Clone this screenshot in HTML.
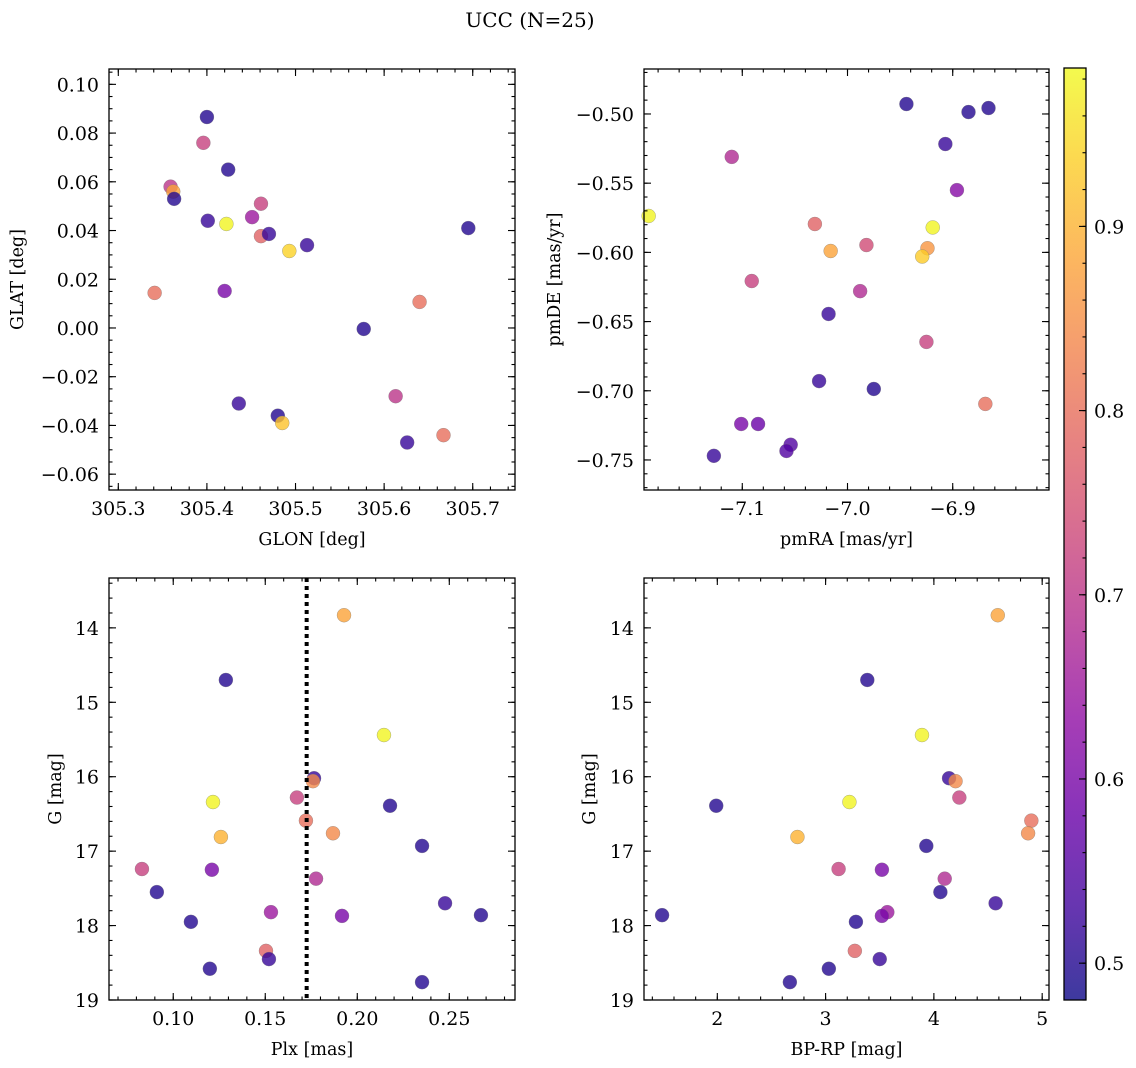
<!DOCTYPE html>
<html><head><meta charset="utf-8">
<style>
html,body{margin:0;padding:0;background:#fff;}
svg{display:block;font-family:"DejaVu Serif","Liberation Serif",serif;}
</style></head>
<body>
<svg id="fig" width="1136" height="1068" viewBox="0 0 1136 1068" xmlns="http://www.w3.org/2000/svg">
<text x="530" y="27" font-size="20" text-anchor="middle">UCC (N=25)</text>
</svg>
<script>
// ---- data ----
const glon = [305.400,305.396,305.424,305.359,305.362,305.363,305.401,305.422,305.451,305.461,305.461,305.470,305.493,305.513,305.341,305.420,305.695,305.577,305.640,305.436,305.480,305.485,305.613,305.626,305.667];
const glat = [0.0866,0.076,0.065,0.058,0.056,0.053,0.044,0.0427,0.0455,0.051,0.0377,0.0386,0.0316,0.034,0.0144,0.0152,0.041,-0.0004,0.0107,-0.031,-0.036,-0.039,-0.028,-0.047,-0.044];
const glonC = [0.5,0.72,0.5,0.7,0.88,0.5,0.52,0.98,0.65,0.72,0.78,0.52,0.94,0.52,0.8,0.6,0.5,0.5,0.8,0.52,0.5,0.92,0.7,0.52,0.8];

const pmra = [-6.944,-6.885,-6.866,-6.907,-7.110,-6.896,-7.189,-6.919,-7.031,-7.016,-6.924,-6.929,-6.982,-7.091,-6.988,-7.018,-6.925,-7.027,-6.975,-6.869,-7.101,-7.085,-7.054,-7.058,-7.127];
const pmde = [-0.4928,-0.4986,-0.4957,-0.5217,-0.531,-0.555,-0.5737,-0.582,-0.5795,-0.599,-0.597,-0.603,-0.5947,-0.6207,-0.628,-0.6445,-0.6647,-0.693,-0.6987,-0.7095,-0.724,-0.724,-0.739,-0.7435,-0.747];
const pmC = [0.5,0.5,0.5,0.52,0.68,0.62,0.98,0.98,0.78,0.88,0.86,0.93,0.74,0.72,0.68,0.52,0.72,0.52,0.5,0.8,0.6,0.58,0.55,0.55,0.52];

const plx = [0.1928,0.1286,0.2145,0.1765,0.1759,0.1216,0.1672,0.2178,0.1721,0.1868,0.1259,0.2352,0.0830,0.1210,0.1776,0.0911,0.2477,0.1531,0.1917,0.2672,0.1096,0.1504,0.1520,0.1199,0.2352];
const gmag = [13.83,14.70,15.44,16.02,16.06,16.34,16.28,16.39,16.59,16.76,16.81,16.93,17.24,17.25,17.37,17.55,17.70,17.82,17.87,17.86,17.95,18.34,18.45,18.58,18.76];
const bprp = [4.59,3.385,3.89,4.14,4.20,3.22,4.235,1.99,4.90,4.87,2.74,3.93,3.12,3.52,4.10,4.06,4.57,3.57,3.52,1.49,3.28,3.27,3.50,3.03,2.67];
const gC = [0.88,0.5,0.98,0.52,0.84,0.98,0.72,0.5,0.8,0.84,0.9,0.5,0.72,0.6,0.68,0.5,0.52,0.65,0.6,0.5,0.5,0.78,0.52,0.5,0.5];
const plxMedian = 0.1725;

const glonTicks = [305.3,305.4,305.5,305.6,305.7];
const glatTicks = [-0.06,-0.04,-0.02,0.00,0.02,0.04,0.06,0.08,0.10];
const pmraTicks = [-7.1,-7.0,-6.9];
const pmdeTicks = [-0.75,-0.70,-0.65,-0.60,-0.55,-0.50];
const plxTicks = [0.10,0.15,0.20,0.25];
const gTicks = [14,15,16,17,18,19];
const bprpTicks = [2,3,4,5];
const cbTicks = [0.5,0.6,0.7,0.8,0.9];
const cMin = 0.48, cMax = 0.986;

// ---- helpers ----
const NS = "http://www.w3.org/2000/svg";
const svg = document.getElementById('fig');
function mk(tag, attrs, parent){ const e=document.createElementNS(NS,tag); for(const k in attrs) e.setAttribute(k,attrs[k]); (parent||svg).appendChild(e); return e; }
const stops=[[0,[13,8,135]],[0.1,[65,4,157]],[0.2,[106,0,168]],[0.3,[143,13,164]],[0.4,[177,42,144]],[0.5,[204,71,120]],[0.6,[225,100,98]],[0.7,[242,132,75]],[0.8,[252,166,54]],[0.9,[252,206,37]],[1,[240,249,33]]];
function plasma(t){ t=Math.max(0,Math.min(1,t)); for(let i=1;i<stops.length;i++){ if(t<=stops[i][0]){ const a=stops[i-1],b=stops[i]; const f=(t-a[0])/(b[0]-a[0]); const c=a[1].map((v,j)=>Math.round(v+(b[1][j]-v)*f)); return `rgb(${c[0]},${c[1]},${c[2]})`; } } return 'rgb(240,249,33)'; }
function cnorm(c){ return (c-cMin)/(cMax-cMin); }

function panel(cfg){
  const {name,L,T,R,B,xmin,xmax,ymin,ymax,yinv,xt,yt,xminor,yminor,xdec,ydec,xs,ys,cs,xlabel,ylabel,ylabelX}=cfg;
  const g=mk('g',{});
  
  
  const sx=v=>L+(v-xmin)/(xmax-xmin)*(R-L);
  const sy=v=>yinv? T+(v-ymin)/(ymax-ymin)*(B-T) : B-(v-ymin)/(ymax-ymin)*(B-T);
  const pg=mk('g',{},g);
  
  
  xs.forEach((x,i)=>{
    const c=mk('circle',{cx:sx(x),cy:sy(ys[i]),r:7,fill:plasma(cnorm(cs[i])),'fill-opacity':0.8,stroke:'#777','stroke-width':0.5,'stroke-opacity':0.6},pg);
    
    
  });
  if(cfg.vline!==undefined){
    const l=mk('line',{x1:sx(cfg.vline),x2:sx(cfg.vline),y1:T,y2:B,stroke:'#000','stroke-width':4,'stroke-dasharray':'4,4'},g);
    
    
  }
  const f=mk('rect',{x:L,y:T,width:R-L,height:B-T,fill:'none',stroke:'#000','stroke-width':1.3},g);
  
  
  const tk=mk('g',{stroke:'#000','stroke-width':1.1},g);
  function xTick(v,len){ const x=sx(v); if(x<L-0.5||x>R+0.5) return; mk('line',{x1:x,x2:x,y1:B,y2:B-len},tk); mk('line',{x1:x,x2:x,y1:T,y2:T+len},tk); }
  function yTick(v,len){ const y=sy(v); if(y<T-0.5||y>B+0.5) return; mk('line',{x1:L,x2:L+len,y1:y,y2:y},tk); mk('line',{x1:R,x2:R-len,y1:y,y2:y},tk); }
  const x0=Math.ceil(Math.min(xmin,xmax)/xminor-1e-6), x1=Math.floor(Math.max(xmin,xmax)/xminor+1e-6);
  for(let k=x0;k<=x1;k++) xTick(k*xminor,3.5);
  const y0=Math.ceil(Math.min(ymin,ymax)/yminor-1e-6), y1=Math.floor(Math.max(ymin,ymax)/yminor+1e-6);
  for(let k=y0;k<=y1;k++) yTick(k*yminor,3.5);
  xt.forEach(v=>{ xTick(v,7);
    const t=mk('text',{x:sx(v),y:B+25,'font-size':19,'text-anchor':'middle'},g); t.textContent=v.toFixed(xdec).replace('-','\u2212');
      });
  yt.forEach(v=>{ yTick(v,7);
    const t=mk('text',{x:L-10,y:sy(v)+7,'font-size':19,'text-anchor':'end'},g); t.textContent=v.toFixed(ydec).replace('-','\u2212');
      });
  const xl=mk('text',{x:(L+R)/2,y:B+55,'font-size':17.5,'text-anchor':'middle'},g); xl.textContent=xlabel;
   
  const yx=ylabelX, yy=(T+B)/2;
  const yl=mk('text',{x:yx,y:yy,'font-size':17.5,'text-anchor':'middle',transform:`rotate(-90 ${yx} ${yy})`},g); yl.textContent=ylabel;
   
}

panel({name:'glon-glat-panel',L:109,T:69,R:515,B:490,xmin:305.2895,xmax:305.7477,ymin:-0.0665,ymax:0.1063,yinv:false,
  xt:glonTicks,yt:glatTicks,xminor:0.02,yminor:0.005,xdec:1,ydec:2,xs:glon,ys:glat,cs:glonC,xlabel:'GLON [deg]',ylabel:'GLAT [deg]',ylabelX:23});
panel({name:'pm-panel',L:644,T:69,R:1049,B:490,xmin:-7.1934,xmax:-6.8085,ymin:-0.7717,ymax:-0.4675,yinv:false,
  xt:pmraTicks,yt:pmdeTicks,xminor:0.02,yminor:0.01,xdec:1,ydec:2,xs:pmra,ys:pmde,cs:pmC,xlabel:'pmRA [mas/yr]',ylabel:'pmDE [mas/yr]',ylabelX:560});
panel({name:'plx-g-panel',L:109,T:578,R:515,B:1000,xmin:0.0651,xmax:0.2857,ymin:13.33,ymax:19.0,yinv:true,
  xt:plxTicks,yt:gTicks,xminor:0.01,yminor:0.2,xdec:2,ydec:0,xs:plx,ys:gmag,cs:gC,xlabel:'Plx [mas]',ylabel:'G [mag]',ylabelX:61,vline:plxMedian});
panel({name:'cmd-panel',L:644,T:578,R:1049,B:1000,xmin:1.323,xmax:5.063,ymin:13.33,ymax:19.0,yinv:true,
  xt:bprpTicks,yt:gTicks,xminor:0.2,yminor:0.2,xdec:0,ydec:0,xs:bprp,ys:gmag,cs:gC,xlabel:'BP-RP [mag]',ylabel:'G [mag]',ylabelX:595});

(function(){
  const L=1064,R=1086,T=68,B=1000;
  const g=mk('g',{});
  
  
  const defs=mk('defs',{},g);
  const lg=mk('linearGradient',{id:'cbg',x1:0,y1:1,x2:0,y2:0},defs);
  for(let i=0;i<=20;i++){ mk('stop',{offset:i/20,'stop-color':plasma(i/20),'stop-opacity':0.8},lg); }
  mk('rect',{x:L,y:T,width:R-L,height:B-T,fill:'url(#cbg)',stroke:'#000','stroke-width':1.3},g);
  const sy=v=>B-(v-cMin)/(cMax-cMin)*(B-T);
  const tk=mk('g',{stroke:'#000','stroke-width':1.1},g);
  for(let k=Math.ceil(cMin/0.02);k<=Math.floor(cMax/0.02);k++){ const y=sy(k*0.02); mk('line',{x1:R,x2:R-3.5,y1:y,y2:y},tk); }
  cbTicks.forEach(v=>{ const y=sy(v); mk('line',{x1:R,x2:R-7,y1:y,y2:y},tk);
    const t=mk('text',{x:R+8,y:y+7,'font-size':19},g); t.textContent=v.toFixed(1);
      });
})();
</script>
</body></html>
